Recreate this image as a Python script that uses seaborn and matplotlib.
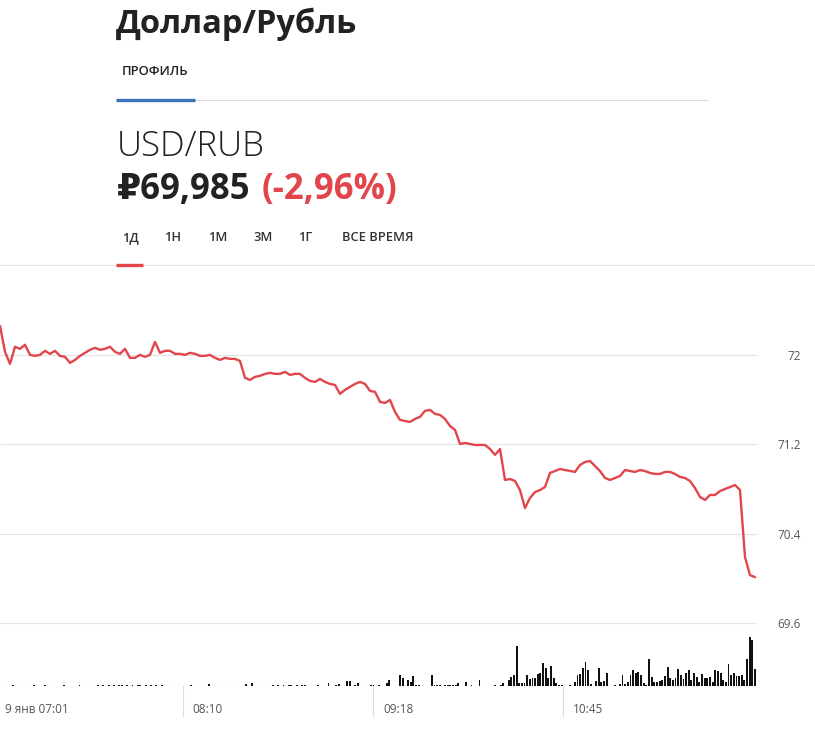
import numpy as np
import pandas as pd
import seaborn as sns
import matplotlib.pyplot as plt
from matplotlib.lines import Line2D
from matplotlib.transforms import offset_copy

W, H = 815, 732

# --- data ---
# USD/RUB price through the session (evenly spaced ticks)
price = [
    72.260, 72.027, 71.919, 72.072, 72.054, 72.090, 72.000, 71.991, 72.000, 72.036,
    72.009, 72.036, 71.991, 71.982, 71.928, 71.955, 71.991, 72.018, 72.045, 72.063,
    72.045, 72.054, 72.072, 72.027, 72.009, 72.054, 71.973, 71.973, 72.000, 71.982,
    72.000, 72.116, 72.018, 72.036, 72.036, 72.009, 72.009, 72.000, 72.018, 72.009,
    71.991, 71.991, 72.000, 71.973, 71.955, 71.973, 71.964, 71.964, 71.946, 71.794,
    71.776, 71.803, 71.812, 71.830, 71.839, 71.830, 71.830, 71.848, 71.821, 71.830,
    71.830, 71.794, 71.767, 71.758, 71.785, 71.758, 71.740, 71.731, 71.651, 71.687,
    71.714, 71.740, 71.758, 71.740, 71.678, 71.669, 71.579, 71.570, 71.597, 71.490,
    71.418, 71.409, 71.400, 71.427, 71.445, 71.499, 71.508, 71.472, 71.463, 71.427,
    71.364, 71.329, 71.203, 71.212, 71.203, 71.194, 71.194, 71.194, 71.158, 71.105,
    71.158, 70.881, 70.890, 70.872, 70.791, 70.630, 70.720, 70.773, 70.791, 70.818,
    70.944, 70.961, 70.979, 70.970, 70.961, 70.953, 71.015, 71.042, 71.051, 71.006,
    70.961, 70.899, 70.881, 70.899, 70.917, 70.970, 70.961, 70.953, 70.970, 70.961,
    70.944, 70.935, 70.935, 70.953, 70.953, 70.935, 70.908, 70.899, 70.872, 70.809,
    70.729, 70.702, 70.747, 70.747, 70.782, 70.800, 70.818, 70.836, 70.791, 70.191,
    70.030, 70.012,
]

# traded volume per tick (relative units)
volume = [
    0, 0, 0, 0, 0, 1, 0, 0, 0, 0, 0, 0, 0, 1, 0, 0, 0, 1, 0, 0,
    0, 0, 0, 0, 1, 0, 0, 0, 0, 0, 1, 0, 0, 0, 0, 0, 0, 1, 0, 1,
    0, 1, 0, 1, 0, 1, 1, 0, 1, 0, 1, 0, 1, 1, 0, 1, 0, 1, 0, 1,
    0, 1, 0, 0, 0, 0, 0, 0, 0, 0, 0, 0, 1, 0, 0, 0, 0, 0, 0, 2,
    0, 0, 0, 0, 0, 0, 0, 0, 0, 0, 0, 0, 0, 2, 0, 3, 0, 0, 0, 0,
    0, 0, 0, 1, 0, 1, 0, 1, 0, 1, 1, 0, 1, 0, 1, 1, 0, 0, 0, 0,
    1, 0, 0, 0, 3, 0, 0, 1, 2, 0, 0, 5, 5, 0, 1, 3, 0, 0, 0, 0,
    1, 1, 0, 1, 0, 0, 3, 6, 0, 0, 0, 11, 8, 0, 6, 4, 10, 1, 1, 0,
    0, 0, 0, 11, 1, 1, 1, 0, 1, 1, 1, 1, 1, 3, 0, 0, 4, 0, 1, 0,
    0, 6, 0, 0, 0, 0, 0, 1, 0, 1, 3, 0, 6, 9, 11, 40, 3, 3, 3, 11,
    7, 8, 8, 12, 13, 23, 18, 8, 20, 8, 3, 1, 1, 0, 0, 1, 0, 4, 11, 12,
    18, 24, 16, 2, 0, 5, 18, 4, 5, 13, 0, 0, 1, 0, 2, 11, 2, 4, 11, 16,
    13, 14, 11, 3, 1, 27, 9, 4, 4, 5, 6, 10, 19, 8, 6, 8, 17, 11, 7, 13,
    16, 6, 13, 9, 4, 12, 8, 8, 9, 4, 16, 15, 13, 6, 4, 22, 11, 13, 10, 10,
    11, 6, 27, 49, 46, 17,
]

y_ticks = [69.6, 70.4, 71.2, 72.0]
y_labels = ['69.6', '70.4', '71.2', '72']
x_tick_pos = [0.0, 0.242, 0.494, 0.746]     # share of the session
x_labels = ['9 янв 07:01', '08:10', '09:18', '10:45']
tabs = ['1Д', '1Н', '1М', '3М', '1Г', 'ВСЕ ВРЕМЯ']

price_df = pd.DataFrame({'t': np.linspace(0, 1, len(price)), 'price': price})
vol_df = pd.DataFrame({'t': np.linspace(0, 1, len(volume)), 'vol': volume})

sns.set_theme(style='white')
plt.rcParams['font.family'] = ['Open Sans', 'DejaVu Sans']

RED = '#e2464c'
DARK = '#222222'
GREY = '#555555'

fig = plt.figure(figsize=(W / 100, H / 100), dpi=100)


def box(x0, y0, x1, y1):
    return [x0 / W, 1 - y1 / H, (x1 - x0) / W, (y1 - y0) / H]


def ftext(x, y, s, **kw):
    fig.text(x / W, 1 - y / H, s, va='baseline', ha='left', **kw)


def hline(x0, x1, y, **kw):
    fig.add_artist(Line2D([x0 / W, x1 / W], [1 - y / H] * 2, **kw))


# header
ftext(116, 33, 'Доллар/Рубль', fontsize=23.5, fontweight='bold', color=DARK)
ftext(122, 75, 'ПРОФИЛЬ', fontsize=9.4, fontweight='semibold', color=DARK)
hline(116, 707, 100, color='#dcdcdc', lw=0.8)
hline(116, 195, 100, color='#3b73b9', lw=2.4, solid_capstyle='butt')
ftext(117, 156, 'USD/RUB', fontsize=25, fontweight='light', color=DARK)
ftext(117, 199, '₽69,985', fontsize=25, fontweight='bold', color=DARK)
ftext(262, 199, '(-2,96%)', fontsize=25, fontweight='bold', color=RED)
for x, s in zip([122, 164, 208, 253, 298, 342], tabs):
    ftext(x, 241, s, fontsize=9.3, fontweight='semibold', color='#333333')
hline(0, W, 265, color='#e6e6e6', lw=0.8)
hline(116, 143, 265, color=RED, lw=2.4, solid_capstyle='butt')

# price line
ax = fig.add_axes(box(0, 290, 757, 640))
sns.lineplot(data=price_df, x='t', y='price', ax=ax, color=RED, linewidth=1.7)
ax.set_xlim(0, 757 / 755)
ax.set_ylim(69.45, 72.58)
ax.set(xlabel='', ylabel='')
ax.set_xticks([])
ax.set_yticks(y_ticks)
ax.set_yticklabels(y_labels)
ax.yaxis.tick_right()
ax.tick_params(axis='y', length=0, pad=31.5, labelsize=8.5, labelcolor=GREY)
for lab in ax.get_yticklabels():
    lab.set_horizontalalignment('right')
ax.grid(axis='y', color='#e3e3e3', lw=0.8)
ax.grid(axis='x', visible=False)
sns.despine(ax=ax, left=True, bottom=True, right=True, top=True)
ax.patch.set_alpha(0)

# volume bars
axv = fig.add_axes(box(0, 630, 757, 686))
sns.barplot(data=vol_df, x='t', y='vol', ax=axv, native_scale=True,
            color='#111111', width=0.72, errorbar=None, saturation=1,
            linewidth=0, edgecolor='none')
axv.set_xlim(0, 757 / 755)
axv.set_ylim(0, 56)
axv.set(xlabel='', ylabel='', xticks=[], yticks=[])
sns.despine(ax=axv, left=True, bottom=True, right=True, top=True)
axv.patch.set_alpha(0)
axv.axhline(0, color='#e3e3e3', lw=0.8, zorder=0)

trans = axv.get_xaxis_transform()
for i, (t, s) in enumerate(zip(x_tick_pos, x_labels)):
    if i > 0:
        axv.axvline(t, ymin=-30 / 56, ymax=0, color='#dddddd', lw=0.8, clip_on=False)
    tr = offset_copy(trans, fig=fig, x=5 if i == 0 else 10, units='dots')
    axv.text(t, -27 / 56, s, transform=tr, ha='left', va='baseline',
             fontsize=8.5, color=GREY)

fig.savefig('out.png', dpi=100)
